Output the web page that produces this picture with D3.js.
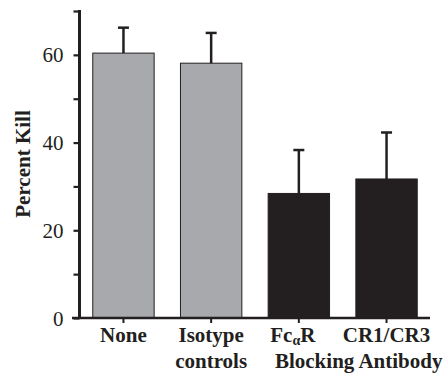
<!DOCTYPE html>
<html>
<head>
<meta charset="utf-8">
<script src="https://cdn.jsdelivr.net/npm/d3@7"></script>
<style>
  html, body { margin: 0; padding: 0; background: #fff; }
  svg { display: block; }
  text { font-family: 'Liberation Serif', 'Times New Roman', serif; }
</style>
</head>
<body>
<script>
// ---- data ----
const categories = ["None", "Isotype", "FcaR", "CR1/CR3"];
const values = [60.4, 58.1, 28.4, 31.7];
const errors = [5.8, 6.9, 9.9, 10.6];
const barColors = ["#a7a9ac", "#a7a9ac", "#231f20", "#231f20"];
const labelLine2 = ["", "controls", "", ""];
const sharedLabel = "Blocking Antibody";
const yTicksMajor = [0, 20, 40, 60];
const yTicksMinor = [10, 30, 50, 70];
const yTitle = "Percent Kill";

const W = 447, H = 373;
const ink = "#231f20";
const serif = "'Liberation Serif', 'Times New Roman', serif";

const svg = d3.select("body").append("svg")
  .attr("width", W).attr("height", H);

const x = d3.scaleBand().domain(categories)
  .range([80, 430]).paddingInner(0.3).paddingOuter(0.1455);
const y = d3.scaleLinear().domain([0, 70]).range([318, 11]);
const axisX = 79.5;

// bars
svg.selectAll("rect.bar").data(categories).join("rect")
  .attr("class", "bar")
  .attr("x", d => x(d))
  .attr("width", x.bandwidth())
  .attr("y", (d, i) => y(values[i]))
  .attr("height", (d, i) => y(0) - y(values[i]))
  .attr("fill", (d, i) => barColors[i])
  .attr("stroke", ink).attr("stroke-width", 1);

// error bars (upper only)
const eg = svg.append("g").attr("stroke", ink).attr("stroke-width", 2.5);
categories.forEach((d, i) => {
  const cx = x(d) + x.bandwidth() / 2;
  eg.append("line").attr("x1", cx).attr("x2", cx)
    .attr("y1", y(values[i])).attr("y2", y(values[i] + errors[i]));
  eg.append("line").attr("x1", cx - 5.5).attr("x2", cx + 5.5)
    .attr("y1", y(values[i] + errors[i])).attr("y2", y(values[i] + errors[i]));
});

// y axis
const yAxis = d3.axisLeft(y).tickValues(yTicksMajor.concat(yTicksMinor).sort((a,b)=>a-b))
  .tickSize(6).tickFormat(d => yTicksMajor.includes(d) ? d : "").tickPadding(10);
const gy = svg.append("g").attr("transform", `translate(${axisX},0)`).call(yAxis)
  .attr("font-family", serif).attr("font-size", 21);
gy.select(".domain").remove();
gy.selectAll(".tick line").attr("stroke", ink).attr("stroke-width", 2.2);
gy.selectAll(".tick text").style("font-family", serif).style("font-size", "21px")
  .attr("fill", ink).attr("dy", "0.34em");
svg.append("line").attr("x1", axisX).attr("x2", axisX)
  .attr("y1", y(70) - 1).attr("y2", y(0) + 1)
  .attr("stroke", ink).attr("stroke-width", 3);

// x axis
const xAxis = d3.axisBottom(x).tickSize(5).tickFormat("");
const gx = svg.append("g").attr("transform", `translate(0,${y(0)})`).call(xAxis);
gx.select(".domain").remove();
gx.selectAll(".tick line").attr("stroke", ink).attr("stroke-width", 2);
svg.append("line").attr("x1", 72).attr("x2", 430)
  .attr("y1", y(0)).attr("y2", y(0))
  .attr("stroke", ink).attr("stroke-width", 2.5);

// x labels
const lbl = svg.append("g").attr("font-family", serif).attr("font-weight", "bold")
  .attr("font-size", 21).attr("fill", ink).attr("text-anchor", "middle");
categories.forEach((d, i) => {
  const cx = x(d) + x.bandwidth() / 2;
  const t = lbl.append("text").attr("x", cx).attr("y", 342);
  if (d === "FcaR") {
    t.attr("x", cx - 6);
    t.append("tspan").text("Fc");
    t.append("tspan").attr("font-size", 14).attr("dy", 3).text("\u03B1");
    t.append("tspan").attr("dy", -3).text("R");
  } else {
    t.text(d);
  }
  if (labelLine2[i]) {
    lbl.append("text").attr("x", cx).attr("y", 368).text(labelLine2[i]);
  }
});
const c3 = x(categories[2]) + x.bandwidth() / 2;
const c4 = x(categories[3]) + x.bandwidth() / 2;
lbl.append("text").attr("x", (c3 + c4) / 2 + 16).attr("y", 368).text(sharedLabel);

// y title
svg.append("text")
  .attr("transform", "translate(30,164) rotate(-90)")
  .attr("text-anchor", "middle")
  .attr("font-family", serif).attr("font-weight", "bold").attr("font-size", 21)
  .attr("fill", ink).text(yTitle);
</script>
</body>
</html>
